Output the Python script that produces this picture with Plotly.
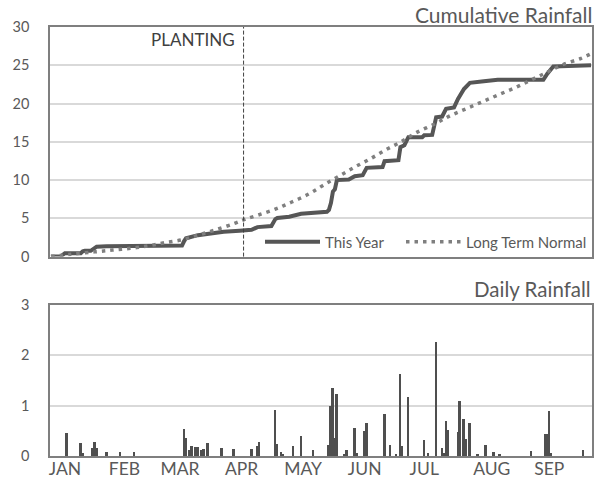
import plotly.graph_objects as go
from plotly.subplots import make_subplots

# ---------------- data ----------------
# x values are day index of the year (0 = Jan 1)
MONTH_LABELS = ["JAN", "FEB", "MAR", "APR", "MAY", "JUN", "JUL", "AUG", "SEP"]
MONTH_TICK_DAYS = [7, 37, 65, 96, 127, 158, 188, 222, 251]

PLANTING_DAY = 97

# Daily rainfall (only days with rain)
RAIN_DAYS = [8, 15, 16, 21, 22, 23, 28, 35, 42,
             67, 68, 70, 71, 73, 74, 76, 77, 79,
             86, 92, 101, 104, 105, 113, 114, 116, 117, 122, 126, 132,
             140, 141, 142, 143, 144, 148, 149, 153, 154, 158, 159,
             168, 171, 174, 176, 177, 180,
             188, 190, 194, 197, 198, 199, 200, 205, 206, 208, 209, 211, 215,
             219, 223, 226,
             242, 249, 250, 251, 252, 268]
RAIN_VALUES = [0.45, 0.25, 0.05, 0.15, 0.27, 0.15, 0.07, 0.07, 0.07,
               0.54, 0.35, 0.12, 0.19, 0.17, 0.17, 0.12, 0.14, 0.25,
               0.15, 0.14, 0.14, 0.19, 0.28, 0.91, 0.23, 0.07, 0.04, 0.20, 0.40, 0.12,
               0.22, 0.99, 1.35, 0.35, 1.24, 0.03, 0.12, 0.55, 0.05, 0.50, 0.65,
               0.83, 0.21, 0.03, 1.62, 0.19, 1.17,
               0.32, 0.05, 2.27, 0.16, 0.05, 0.70, 0.52, 0.48, 1.10, 0.73, 0.34, 0.65, 0.03,
               0.21, 0.08, 0.03,
               0.10, 0.43, 0.43, 0.90, 0.05, 0.11]

# Cumulative rainfall this year
CUM_DAYS = [0, 5, 7, 15, 16, 17, 20, 21, 22, 23, 28, 42, 66, 67, 68, 74, 80, 87, 95,
            101, 104, 111, 113, 114, 120, 126, 139, 140, 141, 142, 143, 144,
            150, 153, 157, 159, 167, 168, 175, 176, 178, 180, 187, 188, 192, 194,
            197, 199, 203, 205, 208, 211, 218, 225, 248, 250, 253, 272]
CUM_VALUES = [0.0, 0.05, 0.45, 0.45, 0.70, 0.75, 0.75, 0.90, 1.20, 1.30, 1.35, 1.42, 1.45, 2.00, 2.40, 2.80, 3.04, 3.25, 3.38,
              3.50, 3.85, 4.00, 4.90, 5.05, 5.20, 5.60, 5.86, 6.10, 7.00, 8.50, 8.80, 10.0,
              10.07, 10.50, 10.64, 11.60, 11.70, 12.46, 12.60, 14.30, 14.55, 15.60, 15.60, 15.85, 15.90, 18.20,
              18.30, 19.30, 19.50, 20.60, 21.90, 22.70, 22.90, 23.10, 23.10, 23.90, 24.85, 25.00]

# Long term normal cumulative rainfall
NORMAL_DAYS = [0, 10, 22, 31, 40, 49, 57, 66, 74, 83, 92, 97, 104, 113, 121, 130, 137, 145,
               153, 161, 169, 177, 184, 193, 201, 209, 217, 225, 234, 242, 250, 258, 267, 272]
NORMAL_VALUES = [0.0, 0.30, 0.62, 0.85, 1.08, 1.40, 1.80, 2.20, 2.80, 3.50, 4.30, 4.80, 5.40, 6.20, 7.10, 8.20, 9.30, 10.5,
                 11.7, 12.8, 14.0, 15.1, 16.2, 17.3, 18.4, 19.3, 20.2, 21.1, 22.1, 23.1, 24.1, 25.1, 25.9, 26.5]

# ---------------- figure ----------------
FONT = "Lato"
TXT = "#595959"
LINE = "#565656"

fig = make_subplots(rows=2, cols=1, shared_xaxes=False, vertical_spacing=0.05)

fig.add_trace(go.Scatter(x=CUM_DAYS, y=CUM_VALUES, mode="lines", name="This Year",
                         line=dict(color=LINE, width=4), legend="legend"), row=1, col=1)
fig.add_trace(go.Scatter(x=NORMAL_DAYS, y=NORMAL_VALUES, mode="lines", name="Long Term Normal",
                         line=dict(color="#7f7f7f", width=3.5, dash="3.5px,5px", shape="spline"),
                         legend="legend2"),
              row=1, col=1)
fig.add_trace(go.Bar(x=RAIN_DAYS, y=RAIN_VALUES, width=1, marker=dict(color="#4f4f4f", line=dict(width=0)),
                     showlegend=False, name="Daily"), row=2, col=1)

W, H = 596, 481
M_L, M_R, M_T, M_B = 50, 4, 27, 25
plot_w = W - M_L - M_R
plot_h = H - M_T - M_B


def px_x(px):
    return (px - M_L) / plot_w


def px_y(py):
    return (H - M_B - py) / plot_h


leg_common = dict(orientation="h", yanchor="middle", y=px_y(242), xanchor="right",
                  bgcolor="rgba(255,255,255,0)", font=dict(size=15, color=TXT, family=FONT),
                  itemwidth=55)
fig.update_layout(
    template="none",
    width=W, height=H,
    margin=dict(l=M_L, r=M_R, t=M_T, b=M_B, autoexpand=False),
    paper_bgcolor="white", plot_bgcolor="white",
    font=dict(family=FONT, color=TXT),
    bargap=0,
    showlegend=True,
    legend=dict(x=px_x(390), **leg_common),
    legend2=dict(x=1, **leg_common),
)

top_bottom = px_y(256.6)
low_top = px_y(305)
xr = [-0.5, 272.5]
axis_common = dict(showline=True, linecolor="#7f7f7f", linewidth=1.5, mirror=True, automargin=False)
fig.update_xaxes(range=xr, showgrid=False, zeroline=False, showticklabels=False, ticks="",
                 domain=[0, 1], **axis_common, row=1, col=1)
fig.update_xaxes(range=xr, showgrid=False, zeroline=False, tickmode="array",
                 tickvals=MONTH_TICK_DAYS, ticktext=MONTH_LABELS, ticks="", ticklabelstandoff=-4,
                 tickfont=dict(size=17.5, color=TXT, family=FONT),
                 domain=[0, 1], **axis_common, row=2, col=1)
fig.update_yaxes(range=[0, 30], dtick=5, domain=[top_bottom, 1], showgrid=True, gridcolor="#d9d9d9",
                 gridwidth=1.5, zeroline=False, ticks="outside", ticklen=16, tickcolor="rgba(0,0,0,0)",
                 tickfont=dict(size=14.5, color=TXT, family=FONT), **axis_common, row=1, col=1)
fig.update_yaxes(range=[0, 3], dtick=1, domain=[0, low_top], showgrid=True, gridcolor="#d9d9d9",
                 gridwidth=1.5, zeroline=False, ticks="outside", ticklen=16, tickcolor="rgba(0,0,0,0)",
                 tickfont=dict(size=14.5, color=TXT, family=FONT), **axis_common, row=2, col=1)

# planting marker
fig.add_shape(type="line", xref="x", yref="y domain", x0=PLANTING_DAY, x1=PLANTING_DAY, y0=0, y1=1,
              line=dict(color="#404040", width=1, dash="4px,2px"))
fig.add_annotation(text="PLANTING", xref="x", yref="paper", x=PLANTING_DAY, xanchor="right", xshift=-7,
                   y=px_y(40), yanchor="middle", showarrow=False,
                   font=dict(size=17, color="#404040", family=FONT))

# panel titles
fig.add_annotation(text="Cumulative Rainfall", xref="paper", yref="paper", x=1, xanchor="right", xshift=2,
                   y=px_y(14), yanchor="middle", showarrow=False,
                   font=dict(size=21, color=TXT, family=FONT))
fig.add_annotation(text="Daily Rainfall", xref="paper", yref="paper", x=1, xanchor="right", xshift=1,
                   y=px_y(289), yanchor="middle", showarrow=False,
                   font=dict(size=20.5, color=TXT, family=FONT))

# remove the default page margin so the figure fills the window exactly
fig.write_html("out.html", config={"displayModeBar": False},
               post_script="document.body.style.margin='0';")
